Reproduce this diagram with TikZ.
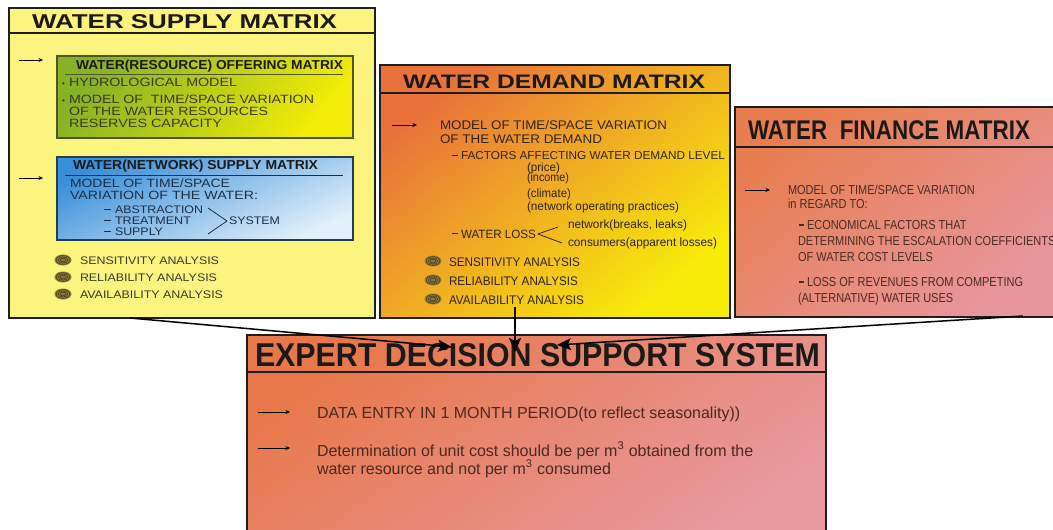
\documentclass[tikz,border=0pt]{standalone}
\usepackage{fontspec}
\setmainfont{Liberation Sans}
\usepackage{graphicx}
\usetikzlibrary{arrows.meta}
\newcommand\fitw[2]{\sbox0{#2}\pgfmathsetmacro\fitsc{#1/\wd0}\scalebox{\fitsc}[1]{\usebox0}}
\newcommand\fsz[1]{\fontsize{#1}{#1}\selectfont}
\newcommand\fin[1]{\fsz{13}\scalebox{0.845}[1]{#1}}
\definecolor{supplyY}{HTML}{FBF47E}
\definecolor{greenA}{HTML}{86B226}
\definecolor{greenB}{HTML}{F2EC06}
\definecolor{blueA}{HTML}{3A8FDA}
\definecolor{blueB}{HTML}{E2F0FA}
\definecolor{demA}{HTML}{E8723A}
\definecolor{demM}{HTML}{F0AE24}
\definecolor{demB}{HTML}{F8EC0A}
\definecolor{finA}{HTML}{E87E50}
\definecolor{finB}{HTML}{E8969E}
\definecolor{edA}{HTML}{E8784A}
\definecolor{edB}{HTML}{E8989F}
\definecolor{bord}{HTML}{1E1E1E}
\definecolor{ttl}{HTML}{1C1A18}
\definecolor{supT}{HTML}{3A3A2A}
\definecolor{grnT}{HTML}{3A3A22}
\definecolor{bluT}{HTML}{1E2E45}
\definecolor{demT}{HTML}{2E2418}
\definecolor{finT}{HTML}{4A2C26}
\definecolor{edT}{HTML}{4A2A22}
\definecolor{spirF}{HTML}{8A7A40}
\definecolor{spirD}{HTML}{4A3E18}
\tikzset{
  box/.style={draw=bord, line width=1.8pt, anchor=north west, inner sep=0pt, outer sep=0pt},
  inbox/.style={line width=1.1pt, anchor=north west, inner sep=0pt, outer sep=0pt},
  sepline/.style={draw=bord, line width=1.5pt},
  thinsep/.style={line width=1pt},
  txt/.style={anchor=base west, inner sep=0pt, outer sep=0pt},
  bularrow/.style={line width=0.9pt, -{Stealth[length=4.5pt,width=4pt]}},
  conn/.style={line width=1.5pt, -{Stealth[length=14pt,width=12pt,inset=3pt]}},
  dashmark/.style={line width=1.6pt},
  spiralpic/.pic={
    \fill[spirF] (0,0) ellipse (8.5 and 5.5);
    \draw[spirD, line width=0.55pt] (0,0) ellipse (6.8 and 4.4) (0,0) ellipse (4.8 and 3.1) (0,0) ellipse (2.8 and 1.8);
  }
}
\begin{document}
\begin{tikzpicture}[x=1pt,y=-1pt]
\useasboundingbox (0,0) rectangle (1053,530);
\fill[white] (0,0) rectangle (1053,530);

% ---------- SUPPLY ----------
\node[box, fill=supplyY, minimum width=366pt, minimum height=310pt] (supply) at (9,8) {};
\draw[sepline] (9,33) -- (375,33);
\node[txt, text=ttl] (tS) at (32,28.5) {\fsz{20}\bfseries\fitw{305}{WATER SUPPLY MATRIX}};
\draw[bularrow] (19,60) -- (43,60);
\draw[bularrow] (19,178) -- (43,178);

\node[inbox, draw={rgb,255:red,80;green,85;blue,40}, top color=greenA, bottom color=greenB, shading angle=50, minimum width=296pt, minimum height=82pt] (green) at (57,56) {};
\node[txt, text=ttl] (tG) at (76,69) {\fsz{13}\bfseries\fitw{267}{WATER(RESOURCE) OFFERING MATRIX}};
\draw[thinsep, draw={rgb,255:red,80;green,85;blue,50}] (65,74) -- (343,74);
\node[txt, text=grnT] (g0) at (62,86) {\fsz{8}•};
\node[txt, text=grnT] (g1) at (69,86.5) {\fsz{12}\fitw{168}{HYDROLOGICAL MODEL}};
\node[txt, text=grnT] (g2b) at (62,103) {\fsz{8}•};
\node[txt, text=grnT] (g2) at (69,103.5) {\fsz{12}\fitw{245}{MODEL OF \ TIME/SPACE VARIATION}};
\node[txt, text=grnT] (g3) at (69,115.5) {\fsz{12}\fitw{199}{OF THE WATER RESOURCES}};
\node[txt, text=grnT] (g4) at (69,127.5) {\fsz{12}\fitw{153}{RESERVES CAPACITY}};

\node[inbox, draw={rgb,255:red,40;green,60;blue,80}, top color=blueA, bottom color=blueB, shading angle=25, minimum width=296pt, minimum height=83pt] (blue) at (57,157) {};
\node[txt, text=ttl] (tB) at (73,169.5) {\fsz{13}\bfseries\fitw{245}{WATER(NETWORK) SUPPLY MATRIX}};
\draw[thinsep, draw={rgb,255:red,30;green,45;blue,65}] (65,175) -- (343,175);
\node[txt, text=bluT] (b1) at (70,187.5) {\fsz{12}\fitw{160}{MODEL OF TIME/SPACE}};
\node[txt, text=bluT] (b2) at (70,199.5) {\fsz{12}\fitw{188}{VARIATION OF THE WATER:}};
\draw[dashmark, bluT] (104,209.5) -- (111,209.5);
\draw[dashmark, bluT] (104,220.5) -- (111,220.5);
\draw[dashmark, bluT] (104,231.5) -- (111,231.5);
\node[txt, text=bluT] (b3) at (115,213.5) {\fsz{11}\fitw{88}{ABSTRACTION}};
\node[txt, text=bluT] (b4) at (115,224.5) {\fsz{11}\fitw{76}{TREATMENT}};
\node[txt, text=bluT] (b5) at (115,235.5) {\fsz{11}\fitw{48}{SUPPLY}};
\draw[bluT, line width=0.8pt] (208,208) -- (227,221) -- (208,234);
\node[txt, text=bluT] (b6) at (229,224.5) {\fsz{11}\fitw{51}{SYSTEM}};

\pic at (63,260) {spiralpic};
\pic at (63,277) {spiralpic};
\pic at (63,294) {spiralpic};
\node[txt, text=supT] (s1) at (80,264) {\fsz{11}\fitw{139}{SENSITIVITY ANALYSIS}};
\node[txt, text=supT] (s2) at (80,281) {\fsz{11}\fitw{137}{RELIABILITY ANALYSIS}};
\node[txt, text=supT] (s3) at (80,298) {\fsz{11}\fitw{143}{AVAILABILITY ANALYSIS}};

% ---------- DEMAND ----------
\node[box, top color=demA, middle color=demM, bottom color=demB, shading angle=40, minimum width=350pt, minimum height=253pt] (demand) at (380,65) {};
\draw[sepline] (380,93) -- (730,93);
\node[txt, text=ttl] (tD) at (403,88) {\fsz{19.5}\bfseries\fitw{302}{WATER DEMAND MATRIX}};
\draw[bularrow] (392,125) -- (417,125);
\node[txt, text=demT] (d1) at (440,129) {\fsz{12.5}\fitw{227}{MODEL OF TIME/SPACE VARIATION}};
\node[txt, text=demT] (d2) at (440,143) {\fsz{12.5}\fitw{162}{OF THE WATER DEMAND}};
\draw[dashmark, demT] (452,155.5) -- (458,155.5);
\node[txt, text=demT] (d3) at (461,159.5) {\fsz{11.5}\fitw{264}{FACTORS AFFECTING WATER DEMAND LEVEL}};
\node[txt, text=demT] (d4) at (527,171.5) {\fsz{12}\fitw{33}{(price)}};
\node[txt, text=demT] (d5) at (527,181.5) {\fsz{12}\fitw{42}{(income)}};
\node[txt, text=demT] (d6) at (527,197.5) {\fsz{12}\fitw{44}{(climate)}};
\node[txt, text=demT] (d7) at (527,210.5) {\fsz{12}\fitw{152}{(network operating practices)}};
\draw[dashmark, demT] (452,233.5) -- (458,233.5);
\node[txt, text=demT] (d8) at (461,238) {\fsz{12}\fitw{75}{WATER LOSS}};
\draw[demT, line width=0.8pt] (558,227) -- (538,234) -- (562,243);
\node[txt, text=demT] (d9) at (568,228.5) {\fsz{12}\fitw{119}{network(breaks, leaks)}};
\node[txt, text=demT] (d10) at (568,246.5) {\fsz{12}\fitw{149}{consumers(apparent losses)}};
\pic at (433,261) {spiralpic};
\pic at (433,280) {spiralpic};
\pic at (433,299) {spiralpic};
\node[txt, text=demT] (d11) at (449,266) {\fsz{12.5}\fitw{131}{SENSITIVITY ANALYSIS}};
\node[txt, text=demT] (d12) at (449,285) {\fsz{12.5}\fitw{129}{RELIABILITY ANALYSIS}};
\node[txt, text=demT] (d13) at (449,304) {\fsz{12.5}\fitw{135}{AVAILABILITY ANALYSIS}};

% ---------- FINANCE ----------
\node[box, top color=finA, bottom color=finB, shading angle=40, minimum width=330pt, minimum height=210pt] (finance) at (735,107) {};
\draw[sepline] (735,147) -- (1065,147);
\node[txt, text=ttl] (tF) at (748,139.5) {\fsz{27}\bfseries\fitw{282}{WATER \ FINANCE MATRIX}};
\draw[bularrow] (745,190) -- (770,190);
\node[txt, text=finT] (f1) at (788,194.6) {\fin{MODEL OF TIME/SPACE VARIATION}};
\node[txt, text=finT] (f2) at (788,208.6) {\fin{in REGARD TO:}};
\draw[dashmark, finT] (799,225) -- (804,225);
\node[txt, text=finT] (f3) at (807,229.6) {\fin{ECONOMICAL FACTORS THAT}};
\node[txt, text=finT] (f4) at (798,245.6) {\fin{DETERMINING THE ESCALATION COEFFICIENTS}};
\node[txt, text=finT] (f5) at (798,261.6) {\fin{OF WATER COST LEVELS}};
\draw[dashmark, finT] (799,282) -- (804,282);
\node[txt, text=finT] (f6) at (807,286.6) {\fin{LOSS OF REVENUES FROM COMPETING}};
\node[txt, text=finT] (f7) at (798,302.6) {\fin{(ALTERNATIVE) WATER USES}};

% ---------- EDSS ----------
\node[box, top color=edA, bottom color=edB, shading angle=35, minimum width=579pt, minimum height=205pt] (edss) at (247,335) {};
\draw[sepline] (247,372) -- (826,372);
\node[txt, text=ttl] (tE) at (255,366) {\fsz{33}\bfseries\fitw{565}{EXPERT DECISION SUPPORT SYSTEM}};
\draw[bularrow] (258,412) -- (290,412);
\draw[bularrow] (258,448) -- (290,448);
\node[txt, text=edT] (e1) at (317,418) {\fsz{16}DATA ENTRY IN 1 MONTH PERIOD(to reflect seasonality))};
\node[txt, text=edT] (e2) at (317,456) {\fsz{16}Determination of unit cost should be per m\textsuperscript{3} obtained from the};
\node[txt, text=edT] (e3) at (317,474) {\fsz{16}water resource and not per m\textsuperscript{3} consumed};

% ---------- CONNECTORS ----------
\coordinate (cs) at ([xshift=121pt]supply.south west);
\coordinate (cd) at (515,307);
\coordinate (cf) at (1023,316);
\coordinate (eL) at (452,347);
\coordinate (eM) at (515,352);
\coordinate (eR) at (557,345);
\draw[conn] (cs) -- (eL);
\draw[conn] (cd) -- (eM);
\draw[conn] (cf) -- (eR);
\end{tikzpicture}
\end{document}
